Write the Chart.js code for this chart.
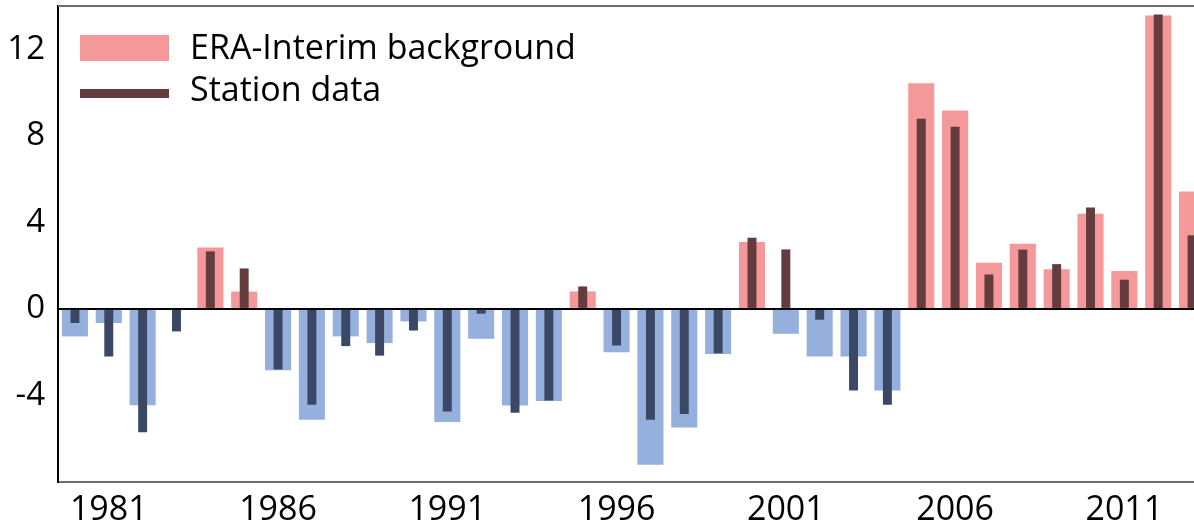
<!DOCTYPE html>
<html>
<head>
<meta charset="utf-8">
<script src="https://cdn.jsdelivr.net/npm/chart.js@4/dist/chart.umd.min.js"></script>
<style>
  html, body { margin: 0; padding: 0; background: #fff; overflow: hidden; }
  #wrap { position: relative; width: 1209px; height: 529px; }
</style>
</head>
<body>
<div id="wrap"><canvas id="c"></canvas></div>
<script>
// Annual anomalies, 1980-2013
const years = [
  1980, 1981, 1982, 1983, 1984, 1985, 1986, 1987, 1988, 1989,
  1990, 1991, 1992, 1993, 1994, 1995, 1996, 1997, 1998, 1999,
  2000, 2001, 2002, 2003, 2004, 2005, 2006, 2007, 2008, 2009,
  2010, 2011, 2012, 2013
];
const eraInterim = [
  -1.27, -0.65, -4.45, 0, 2.84, 0.8, -2.84, -5.12, -1.27, -1.58,
  -0.58, -5.23, -1.38, -4.46, -4.26, 0.81, -2.0, -7.2, -5.48, -2.08,
  3.09, -1.15, -2.2, -2.2, -3.77, 10.43, 9.17, 2.13, 3.01, 1.83,
  4.4, 1.75, 13.56, 5.43
];
const stationData = [
  -0.65, -2.2, -5.7, -1.04, 2.66, 1.87, -2.8, -4.43, -1.72, -2.16,
  -1.0, -4.74, -0.22, -4.8, -4.23, 1.04, -1.69, -5.12, -4.86, -2.05,
  3.29, 2.75, -0.5, -3.77, -4.43, 8.79, 8.42, 1.59, 2.74, 2.07,
  4.69, 1.35, 13.61, 3.4
];
const yTickLabels = [-4, 0, 4, 8, 12];
const seriesNames = ['ERA-Interim background', 'Station data'];

const FONT = "'Open Sans', 'Noto Sans', sans-serif";
const ERA_POS = '#f4989a';
const ERA_NEG = '#95b0dc';
const STN_POS = '#643c3e';
const STN_NEG = '#3b4865';

// Top frame line plus the in-plot legend
const framePlugin = {
  id: 'frame',
  afterDraw(chart) {
    const { ctx, chartArea } = chart;
    ctx.save();
    ctx.strokeStyle = '#6e6e6e';
    ctx.lineWidth = 2;
    ctx.beginPath();
    ctx.moveTo(chartArea.left, chartArea.top);
    ctx.lineTo(chartArea.right, chartArea.top);
    ctx.stroke();

    ctx.fillStyle = ERA_POS;
    ctx.fillRect(80, 35, 89, 26);
    ctx.fillStyle = STN_POS;
    ctx.fillRect(80, 89, 89, 9);

    ctx.fillStyle = '#000';
    ctx.font = '34px ' + FONT;
    ctx.textAlign = 'left';
    ctx.textBaseline = 'alphabetic';
    ctx.fillText(chart.data.datasets[0].label, 190, 59);
    ctx.fillText(chart.data.datasets[1].label, 190, 101);
    ctx.restore();
  }
};

new Chart(document.getElementById('c'), {
  type: 'bar',
  data: {
    labels: years,
    datasets: [
      {
        label: seriesNames[0],
        data: eraInterim,
        backgroundColor: (c) => (c.raw >= 0 ? ERA_POS : ERA_NEG),
        barPercentage: 0.77,
        categoryPercentage: 1,
        grouped: false,
        order: 2
      },
      {
        label: seriesNames[1],
        data: stationData,
        backgroundColor: (c) => (c.raw >= 0 ? STN_POS : STN_NEG),
        barPercentage: 0.265,
        categoryPercentage: 1,
        grouped: false,
        order: 1
      }
    ]
  },
  options: {
    responsive: true,
    maintainAspectRatio: false,
    animation: false,
    layout: { padding: { top: 6, right: 0, left: 0, bottom: 0 } },
    plugins: {
      legend: { display: false },
      tooltip: { enabled: false }
    },
    scales: {
      x: {
        grid: { display: false, drawTicks: false },
        border: { display: true, color: '#6e6e6e', width: 2 },
        ticks: {
          autoSkip: false,
          maxRotation: 0,
          padding: 8,
          color: '#000',
          font: { family: FONT, size: 34 },
          callback: function (v, i) {
            const y = years[i];
            return (y - 1981) % 5 === 0 ? String(y) : '';
          }
        },
        afterFit: (axis) => {
          axis.height = 47;
          axis.paddingLeft = 0;
          axis.paddingRight = 0;
        }
      },
      y: {
        min: -8,
        max: 14,
        grid: {
          drawTicks: false,
          lineWidth: 2,
          color: (c) => (c.tick && c.tick.value === 0 ? '#000' : 'rgba(0,0,0,0)')
        },
        border: { display: true, color: '#000', width: 2 },
        ticks: {
          stepSize: 4,
          padding: 13,
          color: '#000',
          font: { family: FONT, size: 33 },
          callback: (v) => (yTickLabels.includes(v) ? String(v) : '')
        },
        afterFit: (axis) => {
          axis.width = 58;
          axis.paddingTop = 0;
          axis.paddingBottom = 0;
        }
      }
    }
  },
  plugins: [framePlugin]
});
</script>
</body>
</html>
